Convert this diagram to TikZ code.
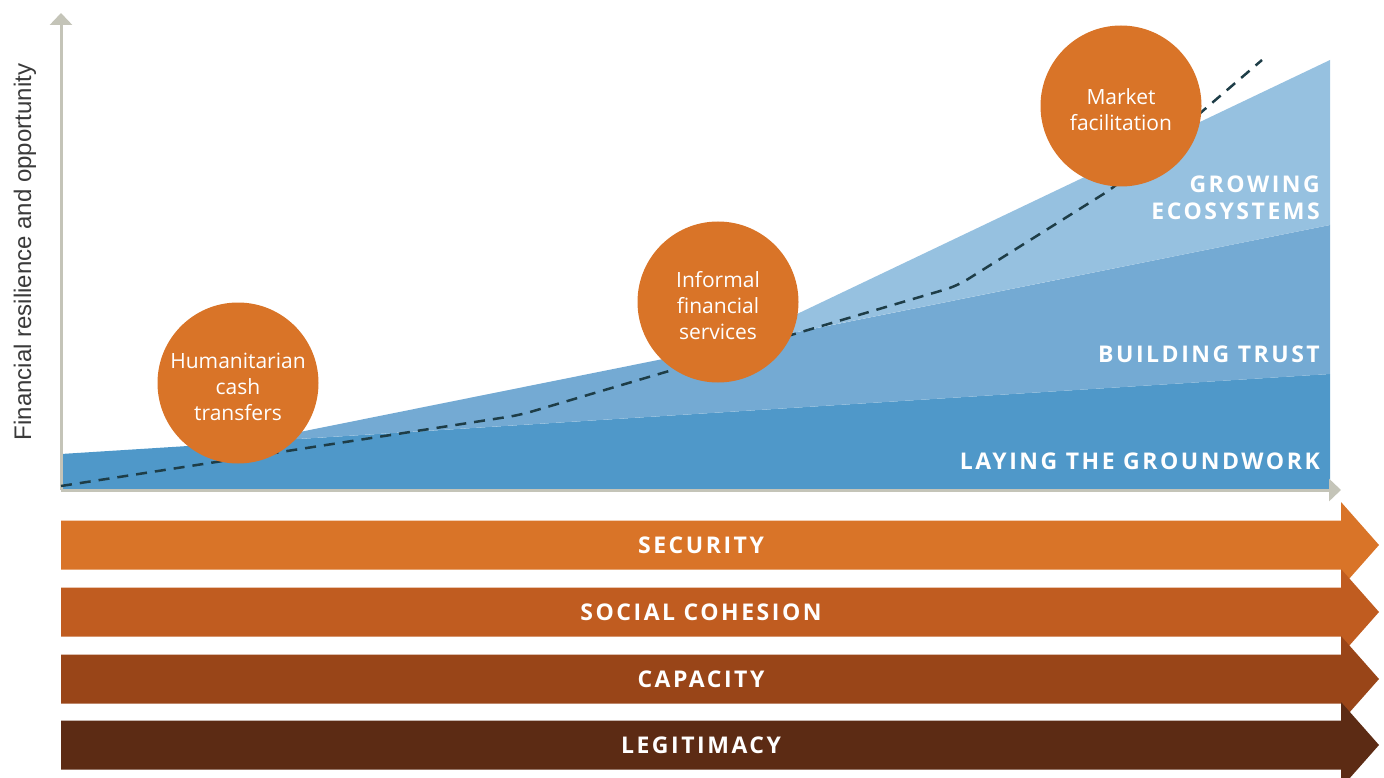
\documentclass[tikz,border=0pt]{standalone}
\usepackage{fontspec}
\setmainfont{Open Sans}
\newfontfamily\capsfamily[LetterSpace=11]{Open Sans}
\newfontfamily\axisfamily{Liberation Sans}
\usetikzlibrary{arrows.meta}

\definecolor{groundblue}{HTML}{4F98C9}
\definecolor{trustblue}{HTML}{74AAD3}
\definecolor{growblue}{HTML}{96C1E0}
\definecolor{stageorange}{HTML}{D97428}
\definecolor{cohesionrust}{HTML}{C05C20}
\definecolor{capacitybrown}{HTML}{994518}
\definecolor{legitbrown}{HTML}{5C2B14}
\definecolor{trendteal}{HTML}{1E3D47}
\definecolor{axisgrey}{HTML}{C4C4B8}
\definecolor{labelgrey}{HTML}{3A3A3A}

\tikzset{
  stage/.style={circle, fill=stageorange, minimum size=161pt, inner sep=0pt},
  stagetext/.style={text=white, align=center, inner sep=0pt, yshift=-4pt,
    font=\fontsize{21}{26}\selectfont},
  layerlabel/.style={text=white, anchor=base east, inner sep=0pt, align=right,
    font=\capsfamily\bfseries\fontsize{23}{27}\selectfont},
  bandlabel/.style={text=white, inner sep=0pt,
    font=\capsfamily\bfseries\fontsize{23}{27}\selectfont},
  axis/.style={draw=axisgrey, line width=3pt, -{Triangle[width=22pt,length=12pt]}},
  trend/.style={draw=trendteal, line width=2.5pt, dash pattern=on 11pt off 8pt}
}

% one wide arrow across the page: colour, y of its centre line
\newcommand\bandarrow[2]{%
  \fill[#1] (61,#2-24.5) -- (1341,#2-24.5) -- (1341,#2-43) -- (1379,#2)
    -- (1341,#2+43) -- (1341,#2+24.5) -- (61,#2+24.5) -- cycle;}

\begin{document}
\begin{tikzpicture}[x=1pt,y=-1pt]
  \useasboundingbox (0,0) rectangle (1384,778);

  % stacked areas
  \fill[groundblue] (61,454) -- (1330,374) -- (1330,490) -- (61,490) -- cycle;
  \fill[trustblue] (250,442) -- (1330,225) -- (1330,374) -- cycle;
  \fill[growblue] (732,345) -- (1330,60) -- (1330,225) -- cycle;

  % axes
  \coordinate (o) at (61,490);
  \coordinate (ytip) at (61,13);
  \coordinate (xtip) at (1341,490);
  \draw [axis] (o) -- (ytip);
  \draw [axis] (o) -- (xtip);
  \node (ylab) [rotate=90, text=labelgrey, font=\axisfamily\fontsize{24}{28}\selectfont]
    at (25,252) {Financial resilience and opportunity};

  % trend line
  \coordinate (t0) at (61,486);
  \coordinate (t1) at (520,415);
  \coordinate (t2) at (957,286);
  \coordinate (t3) at (1113,188);
  \coordinate (t4) at (1262,60);
  \draw [trend, rounded corners=12pt] (t0) -- (t1) -- (t2) -- (t3) -- (t4);

  % stages
  \node (hum) [stage, label={[stagetext]center:{Humanitarian\\cash\\transfers}}]
    at (238,383) {};
  \node (inf) [stage, label={[stagetext]center:{Informal\\financial\\services}}]
    at (718,302) {};
  \node (mkt) [stage, label={[stagetext]center:{Market\\facilitation}}]
    at (1121,106) {};

  % layer names
  \node (grow) [layerlabel] at (1320,220) {GROWING\\ECOSYSTEMS};
  \node (trust) [layerlabel] at (1320,362) {BUILDING TRUST};
  \node (ground) [layerlabel] at (1320,469) {LAYING THE GROUNDWORK};

  % outcome bands
  \bandarrow{stageorange}{545}
  \node (sec) [bandlabel] at (701,545) {SECURITY};
  \bandarrow{cohesionrust}{612}
  \node (coh) [bandlabel] at (701,612) {SOCIAL COHESION};
  \bandarrow{capacitybrown}{679}
  \node (cap) [bandlabel] at (701,679) {CAPACITY};
  \bandarrow{legitbrown}{745}
  \node (leg) [bandlabel] at (701,745) {LEGITIMACY};
\end{tikzpicture}
\end{document}
